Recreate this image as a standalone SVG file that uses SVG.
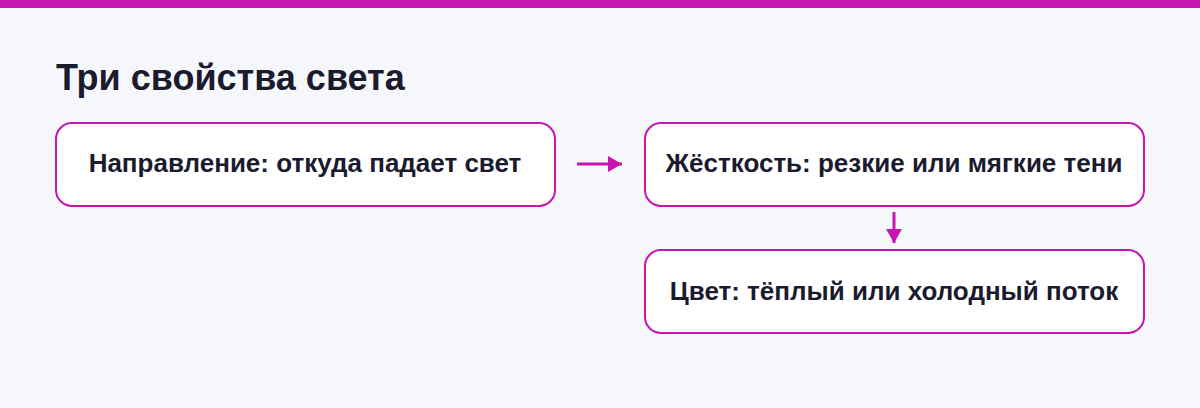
<svg xmlns="http://www.w3.org/2000/svg" width="1200" height="408" viewBox="0 0 1200 408">
<style>
.box{fill:#fff;stroke:#c814b0;stroke-width:2}
.t{font-family:"Liberation Sans",Arial,sans-serif;font-weight:bold;font-size:26px;fill:#1b1b2e;text-anchor:middle}
.c{stroke:#c814b0;stroke-width:3;fill:none}
</style>
<defs><marker id="a" markerWidth="16" markerHeight="16" refX="14" refY="8" orient="auto" markerUnits="userSpaceOnUse"><path d="M0,0L14,8L0,16z" fill="#c814b0"/></marker></defs>
<rect width="1200" height="408" fill="#f6f7fb"/>
<rect width="1200" height="8" fill="#c814b0"/>
<text x="56" y="90" font-family="Liberation Sans,Arial,sans-serif" font-weight="bold" font-size="36" fill="#1b1b2e">Три свойства света</text>
<g id="n1"><rect class="box" x="56" y="123" width="499" height="83" rx="16"/><text class="t" x="305" y="172">Направление: откуда падает свет</text></g>
<g id="n2"><rect class="box" x="645" y="123" width="499" height="83" rx="16"/><text class="t" x="894" y="172">Жёсткость: резкие или мягкие тени</text></g>
<g id="n3"><rect class="box" x="645" y="250" width="499" height="83" rx="16"/><text class="t" x="894" y="300">Цвет: тёплый или холодный поток</text></g>
<g id="connectors">
<path class="c" d="M577,164H622" marker-end="url(#a)"/>
<path class="c" d="M894,212V243" marker-end="url(#a)"/>
</g>
</svg>
